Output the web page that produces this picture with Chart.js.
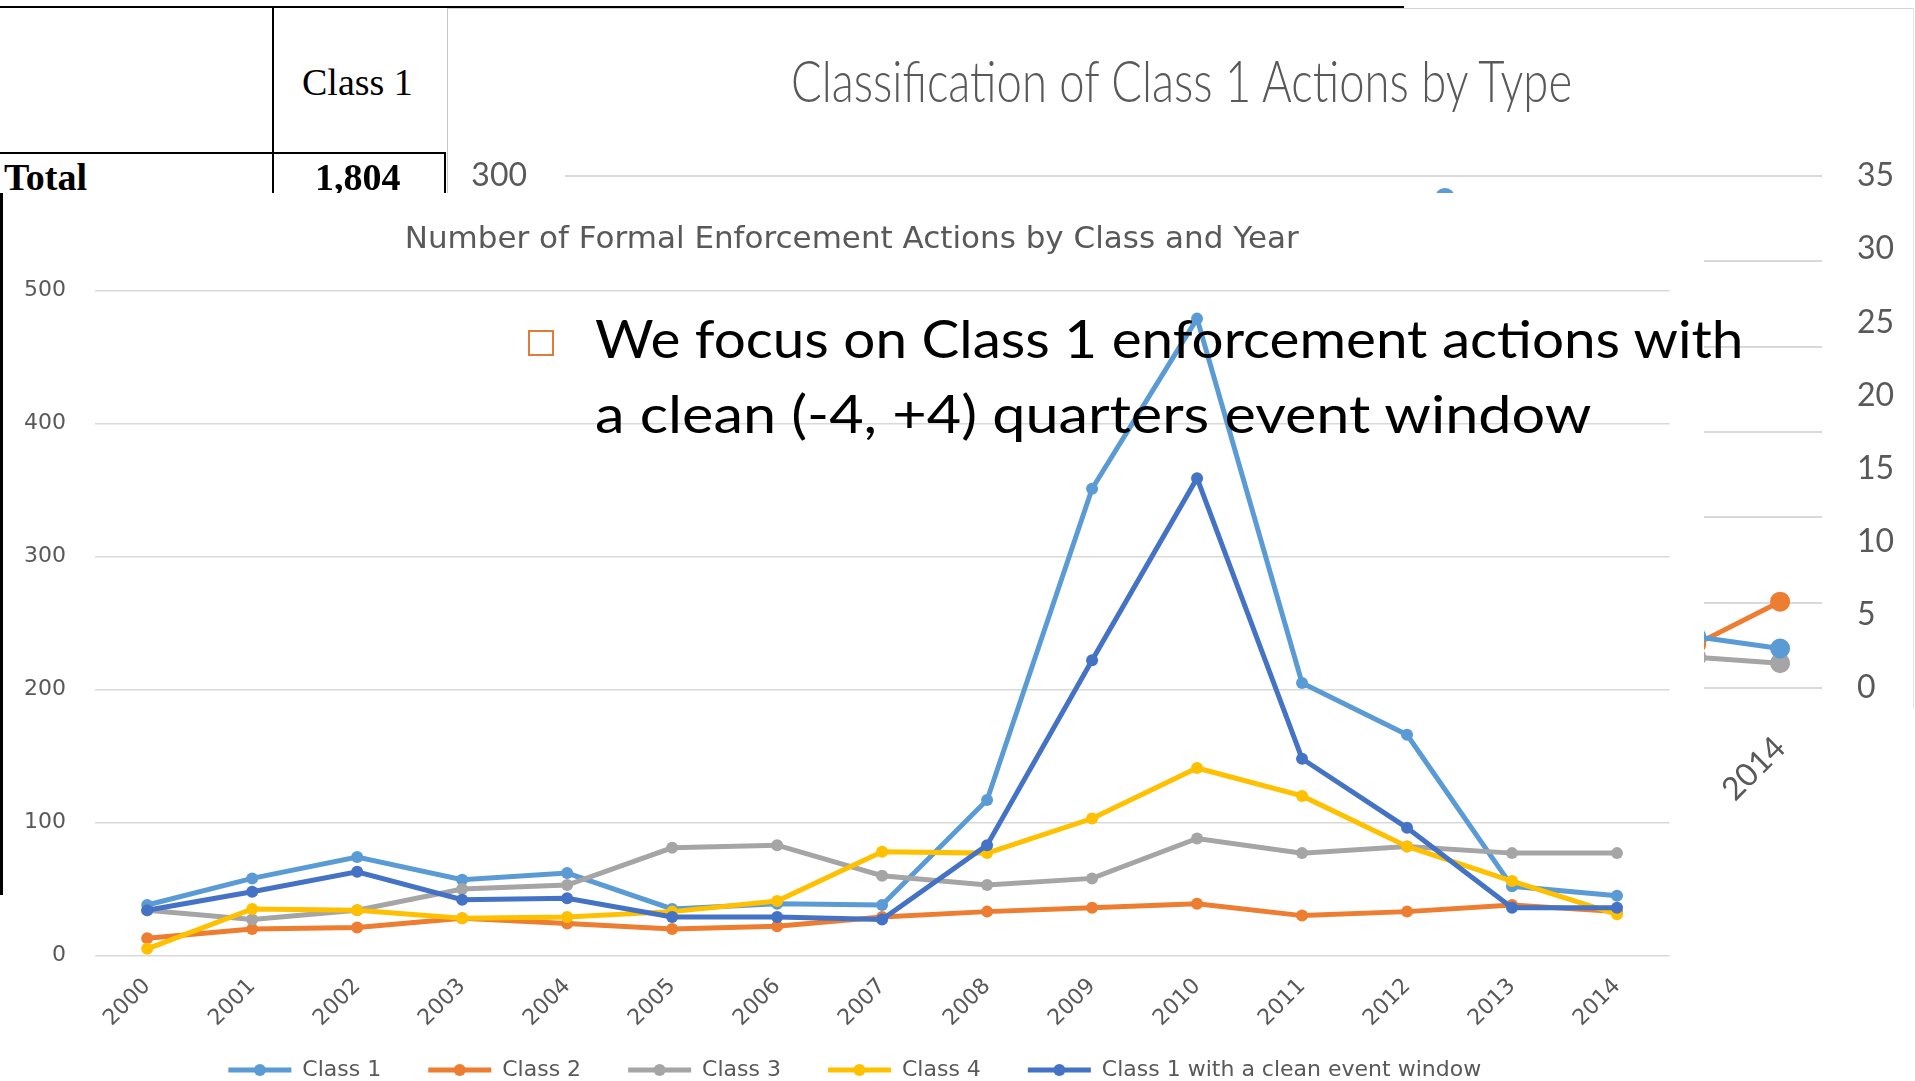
<!DOCTYPE html>
<html>
<head>
<meta charset="utf-8">
<script src="https://cdn.jsdelivr.net/npm/chart.js@4.4.1/dist/chart.umd.min.js"></script>
<style>
  html, body { margin: 0; padding: 0; background: #fff; }
  body { position: relative; width: 1915px; height: 1081px; overflow: hidden; }
  .abs { position: absolute; }
  .serif { font-family: "Liberation Serif", "Times New Roman", serif; font-size: 38px; line-height: 38px; color: #000; white-space: nowrap; }
  .bold { font-weight: bold; }
  #typeWrap { left: 447px; top: 7px; width: 1468px; height: 800px; background: #fff; }
  #typeTitle { font-family: Lato, sans-serif; font-weight: 300; font-size: 58px; line-height: 58px; color: #595959; white-space: nowrap; transform-origin: 0 0; }
  #mainWrap { left: 0; top: 193px; width: 1704px; height: 888px; background: #fff; }
  .bullet { font-family: Lato, sans-serif; font-size: 53px; line-height: 75px; color: #000; white-space: nowrap; transform-origin: 0 0; }
</style>
</head>
<body>

<!-- chart behind: classification by type -->
<div class="abs" id="typeWrap"><canvas id="typeChart" width="1468" height="800"></canvas></div>
<div class="abs" style="left:447px;top:8px;width:1467px;height:1px;background:#d4d4d4"></div>
<div class="abs" style="left:447px;top:8px;width:1px;height:185px;background:#c8c8c8"></div>
<div class="abs" style="left:1913px;top:8px;width:1px;height:700px;background:#e4e4e4"></div>
<div class="abs" id="typeTitle">Classification of Class 1 Actions by Type</div>

<!-- table fragment -->
<div class="abs" style="left:0;top:6px;width:1404px;height:2px;background:#000"></div>
<div class="abs" style="left:272px;top:6px;width:2px;height:187px;background:#000"></div>
<div class="abs" style="left:0;top:152px;width:446px;height:2px;background:#000"></div>
<div class="abs" style="left:444px;top:152px;width:2px;height:41px;background:#000"></div>
<div class="abs serif" style="left:302px;top:63px">Class 1</div>
<div class="abs serif bold" style="left:4px;top:158px">Total</div>
<div class="abs serif bold" style="left:315px;top:158px">1,804</div>

<!-- main chart -->
<div class="abs" id="mainWrap"><canvas id="mainChart" width="1704" height="888"></canvas></div>
<div class="abs" style="left:0;top:193px;width:3px;height:702px;background:#000"></div>

<!-- bullet -->
<div class="abs" style="left:528px;top:330px;width:22px;height:22px;border:2.5px solid #E07B39"></div>
<div class="abs bullet" id="line1" style="left:595px;top:300px">We focus on Class 1 enforcement actions with</div>
<div class="abs bullet" id="line2" style="left:595px;top:375px">a clean (-4, +4) quarters event window</div>

<script>
// Years on both charts
const years = ['2000', '2001', '2002', '2003', '2004', '2005', '2006', '2007',
               '2008', '2009', '2010', '2011', '2012', '2013', '2014'];

// Number of formal enforcement actions by class and year
const class1 = [38, 58, 74, 57, 62, 35, 39, 38, 117, 351, 479, 205, 166, 52, 45];
const class2 = [13, 20, 21, 28, 24, 20, 22, 29, 33, 36, 39, 30, 33, 38, 33];
const class3 = [34, 27, 34, 50, 53, 81, 83, 60, 53, 58, 88, 77, 82, 77, 77];
const class4 = [5, 35, 34, 28, 29, 33, 41, 78, 77, 103, 141, 120, 82, 56, 31];
const class1Clean = [34, 48, 63, 42, 43, 29, 29, 27, 83, 222, 359, 148, 96, 36, 36];
const countTicks = [0, 100, 200, 300, 400, 500];

// Classification chart (mostly covered), only the visible points
const typeBlue = [null, null, null, null, null, null, null, null, null, null, 33.5, null, null, 3.5, 2.7];
const typeOrange = [null, null, null, null, null, null, null, null, null, null, null, null, null, 3.0, 5.9];
const typeGray = [null, null, null, null, null, null, null, null, null, null, null, null, null, 2.1, 1.7];
const typeLeftTicks = [0, 50, 100, 150, 200, 250, 300];
const typeRightTicks = [0, 5, 10, 15, 20, 25, 30, 35];

const grey = '#595959';

// Legend: line sample with a dot in the middle; title and legend nudged into place
const legendDots = {
  id: 'legendDots',
  afterLayout(chart) {
    const lg = chart.legend;
    lg.top -= 23.5; lg.bottom -= 23.5;
    lg.left += 20; lg.right += 20;
    const tb = chart.titleBlock;
    tb.left += 17; tb.right += 17;
    tb.top += 3; tb.bottom += 3;
  },
  afterDraw(chart) {
    const lg = chart.legend;
    if (!lg || !lg.legendHitBoxes) return;
    const ctx = chart.ctx;
    const bw = lg.options.labels.boxWidth;
    lg.legendItems.forEach((item, i) => {
      const hb = lg.legendHitBoxes[i];
      const ds = chart.data.datasets[item.datasetIndex];
      ctx.save();
      ctx.beginPath();
      ctx.arc(hb.left + bw / 2, hb.top + hb.height / 2, 6, 0, Math.PI * 2);
      ctx.fillStyle = ds.borderColor;
      ctx.fill();
      ctx.restore();
    });
  }
};

function series(label, data, color, order) {
  return {
    label: label,
    data: data,
    borderColor: color,
    backgroundColor: color,
    borderWidth: 5,
    pointRadius: 6,
    pointBorderWidth: 0,
    pointBackgroundColor: color,
    tension: 0,
    order: order
  };
}

new Chart(document.getElementById('typeChart'), {
  type: 'line',
  data: {
    labels: years,
    datasets: [
      { label: 'Type 1', data: typeBlue, yAxisID: 'y1', borderColor: '#5B9BD5', backgroundColor: '#5B9BD5', borderWidth: 5, pointRadius: 7.5, spanGaps: false },
      { label: 'Type 2', data: typeOrange, yAxisID: 'y1', borderColor: '#ED7D31', backgroundColor: '#ED7D31', borderWidth: 5, pointRadius: 7.5, spanGaps: false },
      { label: 'Type 3', data: typeGray, yAxisID: 'y1', borderColor: '#A5A5A5', backgroundColor: '#A5A5A5', borderWidth: 5, pointRadius: 7.5, spanGaps: false }
    ]
  },
  options: {
    responsive: false,
    animation: false,
    layout: { padding: { top: 169, left: 0, right: 0, bottom: 0 } },
    plugins: { legend: { display: false }, title: { display: false }, tooltip: { enabled: false } },
    scales: {
      x: {
        offset: true,
        grid: { display: false },
        border: { display: false },
        ticks: { autoSkip: false, minRotation: 45, maxRotation: 45, padding: 33, color: grey, font: { family: 'Lato', size: 32 } },
        afterFit(s) { s.height = 119; }
      },
      y: {
        position: 'left',
        min: typeLeftTicks[0],
        max: typeLeftTicks[typeLeftTicks.length - 1],
        ticks: { stepSize: typeLeftTicks[1] - typeLeftTicks[0], padding: 38, color: grey, font: { family: 'Lato', size: 32 } },
        grid: { color: '#D9D9D9', lineWidth: 2, drawTicks: false },
        border: { display: false },
        afterFit(s) { s.width = 118; }
      },
      y1: {
        position: 'right',
        min: typeRightTicks[0],
        max: typeRightTicks[typeRightTicks.length - 1],
        ticks: { stepSize: typeRightTicks[1] - typeRightTicks[0], padding: 35, color: grey, font: { family: 'Lato', size: 32 } },
        grid: { drawOnChartArea: false, drawTicks: false },
        border: { display: false },
        afterFit(s) { s.width = 93; }
      }
    }
  }
});

new Chart(document.getElementById('mainChart'), {
  type: 'line',
  data: {
    labels: years,
    datasets: [
      series('Class 1', class1, '#5B9BD5', 5),
      series('Class 2', class2, '#ED7D31', 4),
      series('Class 3', class3, '#A5A5A5', 3),
      series('Class 4', class4, '#FFC000', 2),
      series('Class 1 with a clean event window', class1Clean, '#4472C4', 1)
    ]
  },
  options: {
    responsive: false,
    animation: false,
    layout: { padding: { left: 0, right: 34.5, top: 0, bottom: -33.5 } },
    plugins: {
      title: {
        display: true,
        text: 'Number of Formal Enforcement Actions by Class and Year',
        color: grey,
        font: { family: 'DejaVu Sans', size: 31, weight: 'normal' },
        padding: { top: 25.4, bottom: 35.1 }
      },
      legend: {
        position: 'bottom',
        labels: {
          boxWidth: 63,
          boxHeight: 0,
          padding: 47,
          color: grey,
          font: { family: 'DejaVu Sans', size: 22 },
          sort: (a, b) => a.datasetIndex - b.datasetIndex
        }
      },
      tooltip: { enabled: false }
    },
    scales: {
      x: {
        offset: true,
        grid: { display: false },
        border: { display: false },
        ticks: { autoSkip: false, minRotation: 45, maxRotation: 45, padding: 10, color: grey, font: { family: 'DejaVu Sans', size: 22 } },
        afterFit(s) { s.height = 80; }
      },
      y: {
        min: countTicks[0],
        max: countTicks[countTicks.length - 1],
        ticks: { stepSize: countTicks[1] - countTicks[0], padding: 28.7, color: grey, font: { family: 'DejaVu Sans', size: 22 } },
        grid: { color: '#D9D9D9', lineWidth: 1.5, drawTicks: false },
        border: { display: false },
        afterFit(s) { s.width = 94.7; }
      }
    }
  },
  plugins: [legendDots]
});

// squeeze / stretch the slide texts to the widths in the picture
function fitWidth(el, target) {
  const w = el.scrollWidth;
  el.style.transform = 'scaleX(' + (target / w) + ')';
  return target / w;
}
const tt = document.getElementById('typeTitle');
fitWidth(tt, 781);
tt.style.left = (1181 - 781 / 2) + 'px';
tt.style.top = '51px';
fitWidth(document.getElementById('line1'), 1148);
fitWidth(document.getElementById('line2'), 997);
</script>
</body>
</html>
